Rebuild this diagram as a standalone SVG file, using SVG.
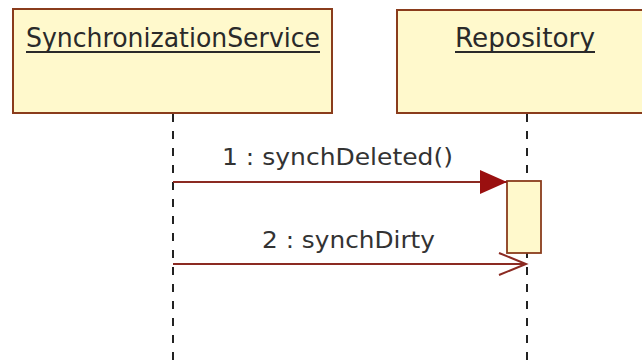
<svg xmlns="http://www.w3.org/2000/svg" width="642" height="361" viewBox="0 0 642 361">
  <style>
    .obj { fill: #fff9cc; stroke: #8a3c1c; stroke-width: 2; }
    .act { fill: #fff9cc; stroke: #8a3c1c; stroke-width: 1.8; }
    .name { font-family: "DejaVu Sans", "Liberation Sans", sans-serif; font-size: 27px; fill: #2a2a2a; }
    .uline { stroke: #2a2a2a; stroke-width: 2; }
    .life { stroke: #222; stroke-width: 2; stroke-dasharray: 8 9; fill: none; }
    .msg { stroke: #8b2a22; stroke-width: 2; fill: none; }
    .lbl { font-family: "DejaVu Sans", "Liberation Sans", sans-serif; font-size: 23px; fill: #333; }
  </style>
  <defs>
    <marker id="sync" markerUnits="userSpaceOnUse" markerWidth="30" markerHeight="26" refX="27" refY="12" orient="auto">
      <path d="M0,0 L27,12 L0,24 Z" fill="#9a1010"/>
    </marker>
    <marker id="async" markerUnits="userSpaceOnUse" markerWidth="32" markerHeight="26" refX="28" refY="12" orient="auto">
      <path d="M1,1 L28,12 L1,23" fill="none" stroke="#8b2a22" stroke-width="2"/>
    </marker>
  </defs>

  <rect width="642" height="361" fill="#ffffff"/>

  <!-- lifelines -->
  <g id="lifelines">
    <line class="life" x1="173" y1="114" x2="173" y2="361"/>
    <line class="life" x1="527" y1="114" x2="527" y2="361"/>
  </g>

  <g id="SynchronizationService">
    <rect class="obj" x="13" y="9" width="319" height="104"/>
    <text class="name" x="26" y="47" textLength="294" lengthAdjust="spacingAndGlyphs">SynchronizationService</text>
    <line class="uline" x1="26" y1="52" x2="320" y2="52"/>
  </g>

  <g id="Repository">
    <rect class="obj" x="397" y="10" width="260" height="103"/>
    <text class="name" x="455" y="47" textLength="140" lengthAdjust="spacingAndGlyphs">Repository</text>
    <line class="uline" x1="455" y1="52" x2="595" y2="52"/>
  </g>

  <g id="activation">
    <rect class="act" x="507" y="181" width="34" height="72"/>
  </g>

  <!-- messages -->
  <g id="connectors">
    <line class="msg" x1="173" y1="182" x2="507" y2="182" marker-end="url(#sync)"/>
    <text class="lbl" x="222" y="165" textLength="231" lengthAdjust="spacingAndGlyphs">1 : synchDeleted()</text>
    <line class="msg" x1="173" y1="264" x2="526" y2="264" marker-end="url(#async)"/>
    <text class="lbl" x="262" y="248" textLength="173" lengthAdjust="spacingAndGlyphs">2 : synchDirty</text>
  </g>
</svg>
